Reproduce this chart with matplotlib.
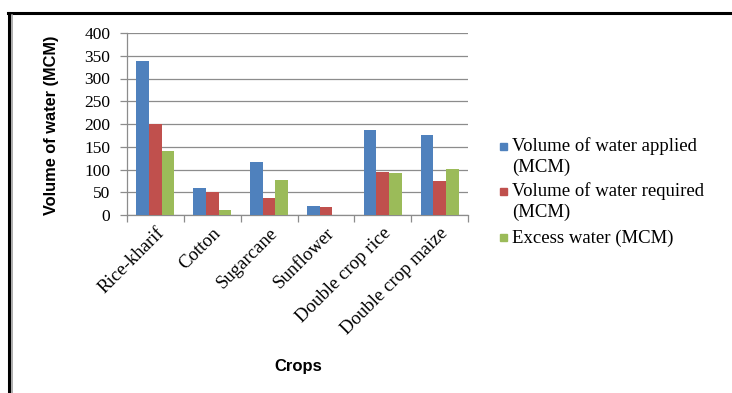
import matplotlib
matplotlib.use("Agg")
import matplotlib.pyplot as plt
import numpy as np
from matplotlib.lines import Line2D
from matplotlib.patches import Rectangle

crops = ['Rice-kharif', 'Cotton', 'Sugarcane', 'Sunflower',
         'Double crop rice', 'Double crop maize']
applied = [339, 59, 116, 20, 186, 175]
required = [201, 51, 37, 18, 95, 74]
excess = [140, 11, 77, 0, 93, 102]

series_names = [['Volume of water applied', '(MCM)'],
                ['Volume of water required', '(MCM)'],
                ['Excess water (MCM)']]
colors = ['#4F81BD', '#C0504D', '#9BBB59']

W, H = 732, 393
fig = plt.figure(figsize=(W / 100, H / 100), dpi=100)
ax = fig.add_axes([127 / W, (H - 215) / H, 341 / W, 182 / H])

x = np.arange(len(crops))
w = 1 / 4.5
for i, vals in enumerate([applied, required, excess]):
    ax.bar(x + (i - 1) * w, vals, width=w, color=colors[i], zorder=3)

ax.set_xlim(-0.5, len(crops) - 0.5)
ax.set_ylim(0, 400)
ax.set_yticks(range(0, 401, 50))
ax.yaxis.grid(True, color='#8C8C8C', linewidth=0.9, zorder=0)

for s in ['top', 'right']:
    ax.spines[s].set_visible(False)
for s in ['left', 'bottom']:
    ax.spines[s].set_color('#8C8C8C')
    ax.spines[s].set_linewidth(0.9)

# category ticks between groups, labels at group centres
ax.set_xticks(np.arange(-0.5, len(crops)))
ax.set_xticklabels([])
ax.set_xticks(x, minor=True)
ax.set_xticklabels(crops, minor=True, rotation=45, ha='right',
                   rotation_mode='anchor', family='Liberation Serif', fontsize=13.5)
ax.tick_params(axis='x', which='minor', length=0, pad=7)
ax.tick_params(axis='x', which='major', length=5, color='#8C8C8C', width=0.9)
ax.tick_params(axis='y', length=5, color='#8C8C8C', width=0.9, pad=7)
for t in ax.get_yticklabels():
    t.set_family('Liberation Serif')
    t.set_fontsize(12.5)

fig.text(52 / W, 1 - 125 / H, 'Volume of water (MCM)', family='Liberation Sans',
         fontweight='bold', fontsize=11.8, rotation=90, ha='center', va='center')
fig.text(298 / W, 1 - 367 / H, 'Crops', family='Liberation Sans',
         fontweight='bold', fontsize=12, ha='center', va='center')

# legend drawn by hand so the square sits on the first text line
legend_rows = [146, 191, 237]
for c, lines, yc in zip(colors, series_names, legend_rows):
    fig.add_artist(Rectangle((500 / W, 1 - (yc + 3.5) / H), 7 / W, 7 / H,
                             color=c, transform=fig.transFigure))
    for k, line in enumerate(lines):
        yl = yc + k * 20 + 5.5
        fig.text(512 / W, 1 - yl / H, line, family='Liberation Serif',
                 fontsize=13.5, ha='left', va='baseline')

# page border lines (top and left)
fig.add_artist(Line2D([8 / W, 731 / W], [1 - 13 / H] * 2, color='black',
                      linewidth=2.2, transform=fig.transFigure))
fig.add_artist(Line2D([9 / W] * 2, [0, 1 - 13 / H], color='black',
                      linewidth=2.2, transform=fig.transFigure))
fig.add_artist(Line2D([12 / W] * 2, [0, 1 - 15 / H], color='#A0A0A0',
                      linewidth=1.2, transform=fig.transFigure))

fig.savefig('out.png', dpi=100)
